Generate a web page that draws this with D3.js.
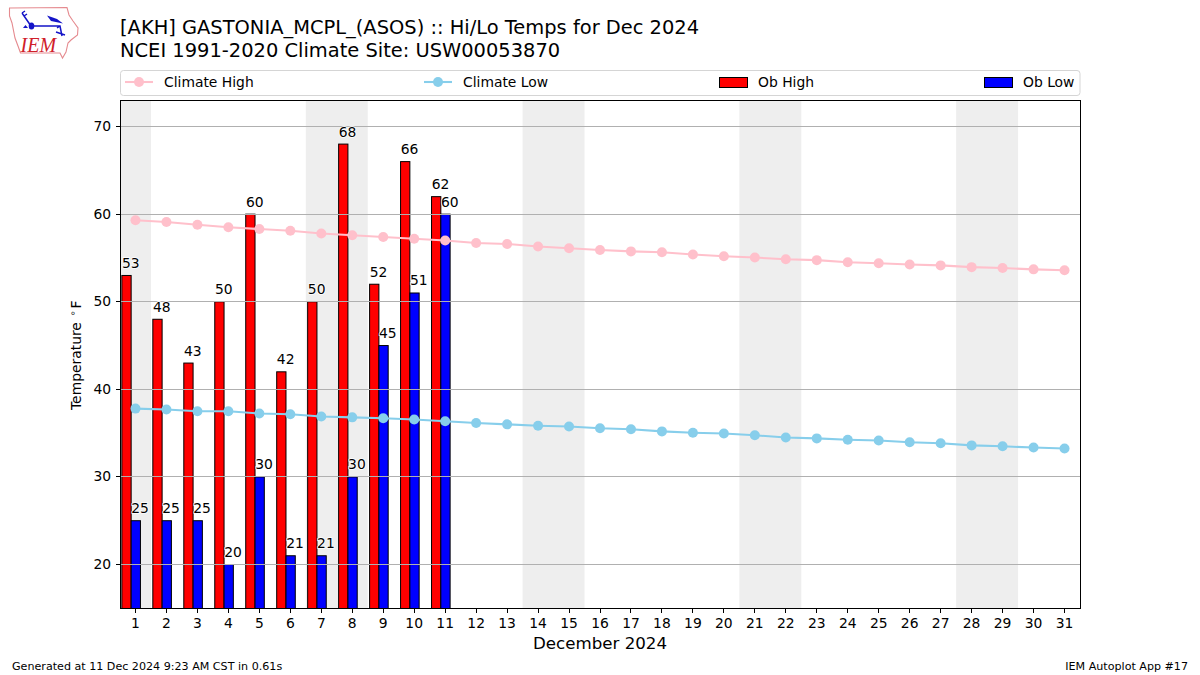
<!DOCTYPE html>
<html><head><meta charset="utf-8">
<script src="https://cdn.jsdelivr.net/npm/d3@7/dist/d3.min.js"></script>
<style>
html,body{margin:0;padding:0;background:#fff}
svg{display:block}
text{font-family:"DejaVu Sans",sans-serif;fill:#000}
.tick text{font-family:"DejaVu Sans",sans-serif}
</style></head><body>
<svg id="c" width="1200" height="675"></svg>
<script>
const days = d3.range(1, 32);
const obHigh = [53,48,43,50,60,42,50,68,52,66,62];
const obLow = [25,25,25,20,30,21,21,30,45,51,60];
const climateHigh = [59.3,59.1,58.8,58.5,58.3,58.1,57.8,57.6,57.4,57.2,57.0,56.7,56.6,56.3,56.1,55.9,55.75,55.65,55.4,55.2,55.05,54.85,54.75,54.5,54.4,54.25,54.15,53.95,53.85,53.7,53.6];
const climateLow = [37.8,37.7,37.5,37.5,37.25,37.15,36.9,36.8,36.7,36.55,36.35,36.15,36.0,35.85,35.75,35.55,35.45,35.2,35.05,34.95,34.75,34.5,34.4,34.25,34.15,33.95,33.85,33.6,33.5,33.35,33.25];
const weekends = [[0.5,1.5],[6.5,8.5],[13.5,15.5],[20.5,22.5],[27.5,29.5]];
const yTicks = [20,30,40,50,60,70];
const titleLines = ["[AKH] GASTONIA_MCPL_(ASOS) :: Hi/Lo Temps for Dec 2024","NCEI 1991-2020 Climate Site: USW00053870"];
const legendLines = [{name:"Climate High",color:"pink"},{name:"Climate Low",color:"skyblue"}];
const legendBars = [{name:"Ob High",color:"red"},{name:"Ob Low",color:"blue"}];

const L=120.5,R=1080.5,T=100.5,B=608.5;
const svg=d3.select("#c");
const x=d3.scaleLinear().domain([0.5,31.5]).range([120,1080]);
const y=d3.scaleLinear().domain([15,73]).range([608.3,100.3]);
const dayW=x(1)-x(0);

// logo
const logo=svg.append("g").attr("class","logo");
logo.append("path").attr("d","M9.5,8 L67,7.5 L69,15 L73,21 L78,28 L77.5,35 L71,40 L68,43 L66,52 L62.5,58 L60,53 L20.5,53 L18,46 L15,38 L12,23 L9.5,16 Z")
  .attr("fill","#fff").attr("stroke","#e58a8f").attr("stroke-width",1.1);
logo.append("path").attr("d","M31,26 L60,26 L62,36 M31,26 L22,13 M22,13 L25,11 M24,16 L27,14 M56,32 L65,35 M57,28 L60,26")
  .attr("fill","none").attr("stroke","#1414c8").attr("stroke-width",1.5);
logo.append("ellipse").attr("cx",31.5).attr("cy",26).attr("rx",2.8).attr("ry",3.6).attr("fill","#1414c8");
logo.append("path").attr("d","M47,15.5 L57,19 L63,23.5 L51,21 Z").attr("fill","#1414c8");
logo.append("path").attr("d","M23,28 l2.5,-3 l2.5,3 Z").attr("fill","#1414c8");
logo.append("text").text("IEM").attr("x",20.5).attr("y",52).attr("font-size",20).attr("font-style","italic")
  .style("font-family","'Liberation Serif',serif").style("fill","#d0202a");

// titles
svg.selectAll("text.title").data(titleLines).join("text").attr("class","title")
  .attr("x",120).attr("y",(d,i)=>34+i*23).attr("font-size",19.44).text(d=>d);

// weekend shading
svg.selectAll("rect.we").data(weekends).join("rect").attr("class","we")
  .attr("x",d=>x(d[0])).attr("width",d=>x(d[1])-x(d[0])).attr("y",T).attr("height",B-T).attr("fill","#eeeeee");

// bars
const barG=svg.append("g");
const barW=0.3*dayW;
function bars(vals,off,color){
  barG.selectAll(null).data(vals).join("rect")
    .attr("x",(d,i)=>x(days[i]+off)).attr("width",barW)
    .attr("y",d=>y(d)).attr("height",d=>B-y(d))
    .attr("fill",color).attr("stroke","#000").attr("stroke-width",1);
}
bars(obHigh,-0.44,legendBars[0].color);
bars(obLow,-0.14,legendBars[1].color);

// grid
svg.append("g").selectAll("line").data(yTicks).join("line")
  .attr("x1",L).attr("x2",R).attr("y1",d=>Math.floor(y(d))+.5).attr("y2",d=>Math.floor(y(d))+.5)
  .attr("stroke","#b0b0b0").attr("stroke-width",1);

// climate lines
function climate(vals,color){
  const g=svg.append("g");
  g.append("path").datum(vals).attr("fill","none").attr("stroke",color).attr("stroke-width",2.08)
   .attr("d",d3.line().x((d,i)=>x(days[i])).y(d=>y(d)));
  g.selectAll("circle").data(vals).join("circle").attr("cx",(d,i)=>x(days[i])).attr("cy",d=>y(d)).attr("r",5).attr("fill",color);
}
climate(climateHigh,legendLines[0].color);
climate(climateLow,legendLines[1].color);

// frame
svg.append("rect").attr("x",L).attr("y",T).attr("width",R-L).attr("height",B-T).attr("fill","none").attr("stroke","#000").attr("stroke-width",1);

// value labels
function labels(vals,off){
  svg.append("g").selectAll("text").data(vals).join("text")
    .attr("x",(d,i)=>x(days[i]+off)).attr("y",d=>y(d)-7.5).attr("text-anchor","middle")
    .attr("font-size",13.89).attr("stroke","#fff").attr("stroke-width",1.5).attr("paint-order","stroke").text(d=>d);
}
labels(obHigh,-0.15);
labels(obLow,0.15);

// axes
const ax=svg.append("g").attr("transform",`translate(0,${B})`).call(d3.axisBottom(x).offset(0).tickValues(days).tickFormat(d3.format("d")).tickSize(4.9).tickPadding(4.5));
const ay=svg.append("g").attr("transform",`translate(${L},0)`).call(d3.axisLeft(y).offset(0).tickValues(yTicks).tickFormat(d3.format("d")).tickSize(4.9).tickPadding(4.5));
[ax,ay].forEach(a=>{a.select(".domain").remove();a.selectAll("text").attr("font-size",13.89).style("font-family","'DejaVu Sans'");a.selectAll("line").attr("stroke","#000").attr("stroke-width",1).attr("shape-rendering","crispEdges");});

svg.append("text").attr("x",600).attr("y",649).attr("text-anchor","middle").attr("font-size",16.67).text("December 2024");
const yl=svg.append("text").attr("transform","translate(81,410) rotate(-90)").attr("text-anchor","start").attr("font-size",13.89);
yl.append("tspan").text("Temperature ");
yl.append("tspan").text("\u2218").attr("dx",1.5).attr("dy",-5).attr("font-size",9.7);
yl.append("tspan").text("F").attr("dx",1.5).attr("dy",5);

// legend
svg.append("rect").attr("x",120.5).attr("y",70.5).attr("width",959.5).attr("height",25).attr("rx",3).attr("fill","#fff").attr("stroke","#d5d5d5").attr("stroke-width",1);
const legY=82;
const lineLegX=[125,424], barLegX=[719,984];
legendLines.forEach((d,i)=>{
  const g=svg.append("g").attr("transform",`translate(${lineLegX[i]},${legY})`);
  g.append("line").attr("x1",0).attr("x2",28).attr("stroke",d.color).attr("stroke-width",2.08);
  g.append("circle").attr("cx",14).attr("r",5).attr("fill",d.color);
  g.append("text").attr("x",39).attr("y",4.8).attr("font-size",13.89).text(d.name);
});
legendBars.forEach((d,i)=>{
  const g=svg.append("g").attr("transform",`translate(${barLegX[i]},${legY})`);
  g.append("rect").attr("x",0.5).attr("y",-4.5).attr("width",28).attr("height",10).attr("fill",d.color).attr("stroke","#000").attr("stroke-width",1);
  g.append("text").attr("x",39).attr("y",4.8).attr("font-size",13.89).text(d.name);
});

// footer
svg.append("text").attr("x",12).attr("y",670).attr("font-size",11.11).text("Generated at 11 Dec 2024 9:23 AM CST in 0.61s");
svg.append("text").attr("x",1188).attr("y",670).attr("text-anchor","end").attr("font-size",11.11).text("IEM Autoplot App #17");
</script></body></html>
